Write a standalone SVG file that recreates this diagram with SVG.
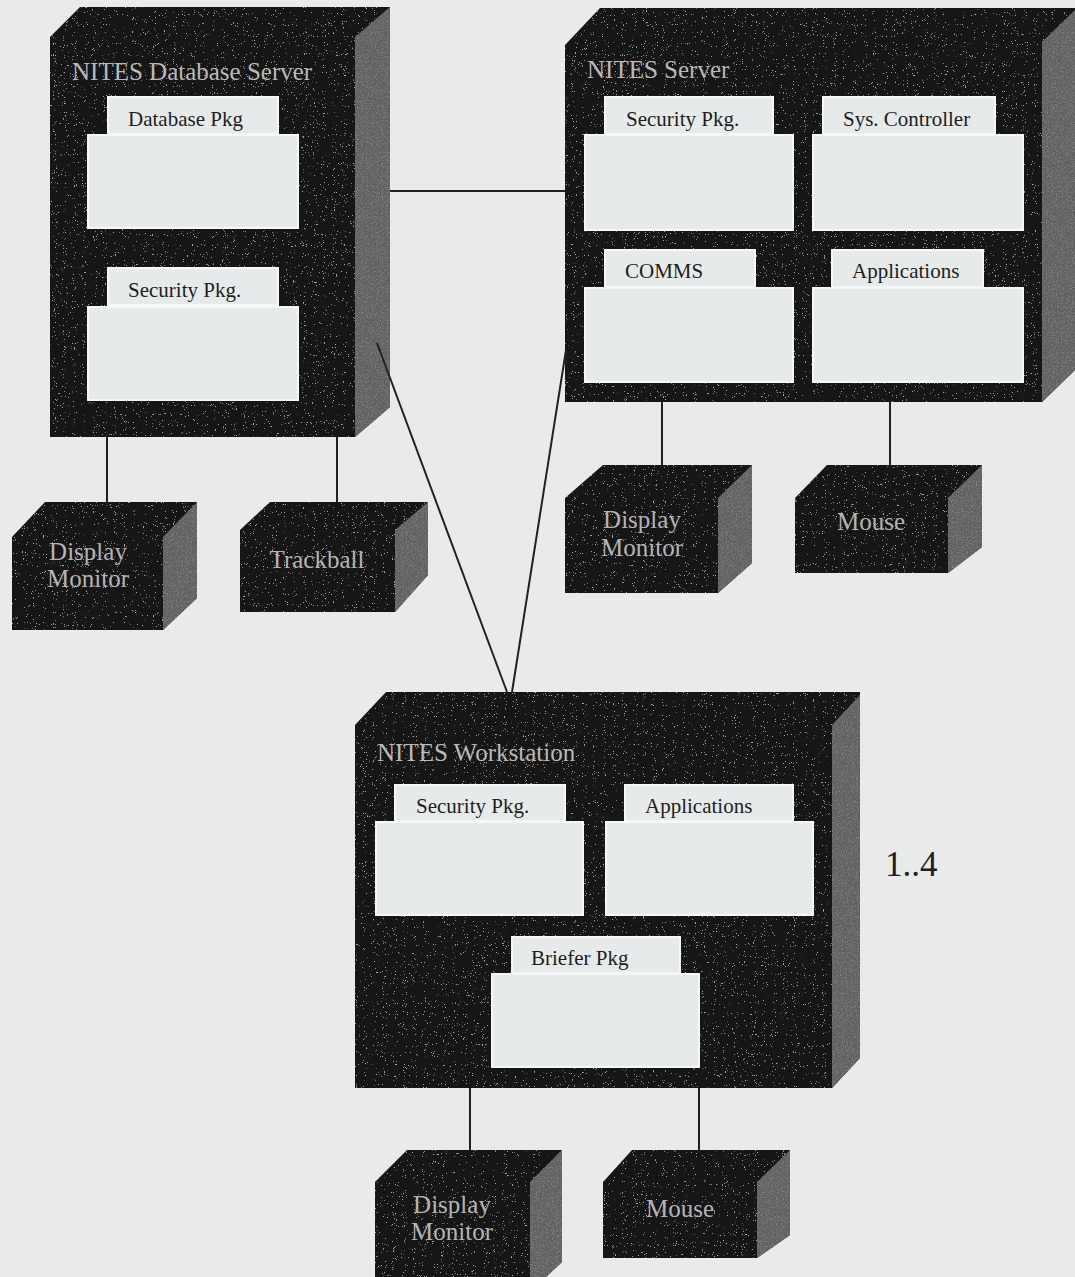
<svg xmlns="http://www.w3.org/2000/svg" width="1075" height="1277" viewBox="0 0 1075 1277">
<defs>
<style>
.bg{fill:#e8ebea}
.body{fill:#161616;filter:url(#speckFront)}
.side{fill:#626262;filter:url(#speckSide)}
.pkg{fill:#e7eaea;stroke:#f6f7f7;stroke-width:2}
.ttl{font-family:"Liberation Serif","Times New Roman",serif;font-size:25px;fill:#b9b9b9}
.dev{font-family:"Liberation Serif","Times New Roman",serif;font-size:25px;fill:#b4b4b4;text-anchor:middle}
.lbl{font-family:"Liberation Serif","Times New Roman",serif;font-size:21px;fill:#1e1e1e}
.mult{font-family:"Liberation Serif","Times New Roman",serif;font-size:35px;fill:#1e1e1e}
.conn line{stroke:#222;stroke-width:2}
</style>
<filter id="speckFront" x="0" y="0" width="100%" height="100%">
<feTurbulence type="fractalNoise" baseFrequency="0.9" numOctaves="2" seed="4" result="n"/>
<feColorMatrix in="n" type="matrix" values="0 0 0 0 0.4  0 0 0 0 0.4  0 0 0 0 0.4  16 0 0 0 -11.2" result="s"/>
<feComposite in="s" in2="SourceGraphic" operator="in" result="s2"/>
<feMerge><feMergeNode in="SourceGraphic"/><feMergeNode in="s2"/></feMerge>
</filter>
<filter id="speckSide" x="0" y="0" width="100%" height="100%">
<feTurbulence type="fractalNoise" baseFrequency="0.8" numOctaves="2" seed="9" result="n"/>
<feColorMatrix in="n" type="matrix" values="0 0 0 0 0.22  0 0 0 0 0.22  0 0 0 0 0.22  5 0 0 0 -2.6" result="s"/>
<feComposite in="s" in2="SourceGraphic" operator="in" result="s2"/>
<feMerge><feMergeNode in="SourceGraphic"/><feMergeNode in="s2"/></feMerge>
</filter>
</defs>
<rect class="bg" x="0" y="0" width="1075" height="1277"/>

<g id="db-server">
<polygon class="body" points="50,37 80,7 390,7 390,407 355,437 50,437"/>
<polygon class="side" points="355,37 390,7 390,407 355,437"/>
<text class="ttl" x="72" y="80">NITES Database Server</text>
<rect class="pkg" x="108" y="97" width="170" height="37"/>
<rect class="pkg" x="88" y="135" width="210" height="93"/>
<text class="lbl" x="128" y="126">Database Pkg</text>
<rect class="pkg" x="108" y="268" width="170" height="37"/>
<rect class="pkg" x="88" y="307" width="210" height="93"/>
<text class="lbl" x="128" y="297">Security Pkg.</text>
</g>

<g id="nites-server">
<polygon class="body" points="565,45 600,8 1075,8 1075,370 1042,402 565,402"/>
<polygon class="side" points="1042,42 1075,10 1075,370 1042,402"/>
<text class="ttl" x="587" y="78">NITES Server</text>
<rect class="pkg" x="605" y="97" width="168" height="37"/>
<rect class="pkg" x="585" y="135" width="208" height="95"/>
<text class="lbl" x="626" y="126">Security Pkg.</text>
<rect class="pkg" x="823" y="97" width="172" height="37"/>
<rect class="pkg" x="813" y="135" width="210" height="95"/>
<text class="lbl" x="843" y="126">Sys. Controller</text>
<rect class="pkg" x="605" y="250" width="150" height="37"/>
<rect class="pkg" x="585" y="288" width="208" height="94"/>
<text class="lbl" x="625" y="278">COMMS</text>
<rect class="pkg" x="832" y="250" width="151" height="37"/>
<rect class="pkg" x="813" y="288" width="210" height="94"/>
<text class="lbl" x="852" y="278">Applications</text>
</g>

<g id="workstation">
<polygon class="body" points="355,725 386,692 860,692 860,1058 832,1088 355,1088"/>
<polygon class="side" points="832,725 860,695 860,1058 832,1088"/>
<text class="ttl" x="377" y="761">NITES Workstation</text>
<rect class="pkg" x="395" y="785" width="170" height="36"/>
<rect class="pkg" x="376" y="822" width="207" height="93"/>
<text class="lbl" x="416" y="813">Security Pkg.</text>
<rect class="pkg" x="625" y="785" width="168" height="36"/>
<rect class="pkg" x="606" y="822" width="207" height="93"/>
<text class="lbl" x="645" y="813">Applications</text>
<rect class="pkg" x="512" y="937" width="168" height="36"/>
<rect class="pkg" x="492" y="974" width="207" height="93"/>
<text class="lbl" x="531" y="965">Briefer Pkg</text>
</g>

<g id="db-display-monitor">
<polygon class="body" points="12,537 45,502 197,502 197,598 163,630 12,630"/>
<polygon class="side" points="163,537 197,502 197,598 163,630"/>
<text class="dev" x="88" y="560">Display</text>
<text class="dev" x="88" y="587">Monitor</text>
</g>

<g id="db-trackball">
<polygon class="body" points="240,530 270,502 428,502 428,575 395,612 240,612"/>
<polygon class="side" points="395,530 428,502 428,575 395,612"/>
<text class="dev" x="317" y="568">Trackball</text>
</g>

<g id="server-display-monitor">
<polygon class="body" points="565,498 603,465 752,465 752,563 718,593 565,593"/>
<polygon class="side" points="718,498 752,465 752,563 718,593"/>
<text class="dev" x="642" y="528">Display</text>
<text class="dev" x="642" y="556">Monitor</text>
</g>

<g id="server-mouse">
<polygon class="body" points="795,498 827,465 982,465 982,547 948,573 795,573"/>
<polygon class="side" points="948,498 982,465 982,547 948,573"/>
<text class="dev" x="871" y="530">Mouse</text>
</g>

<g id="ws-display-monitor">
<polygon class="body" points="375,1182 407,1150 562,1150 562,1262 530,1292 375,1292"/>
<polygon class="side" points="530,1182 562,1150 562,1262 530,1292"/>
<text class="dev" x="452" y="1213">Display</text>
<text class="dev" x="452" y="1240">Monitor</text>
</g>

<g id="ws-mouse">
<polygon class="body" points="603,1182 632,1150 790,1150 790,1235 757,1258 603,1258"/>
<polygon class="side" points="757,1182 790,1150 790,1235 757,1258"/>
<text class="dev" x="680" y="1217">Mouse</text>
</g>

<g id="multiplicity">
<text class="mult" x="885" y="876">1..4</text>
</g>

<g id="connectors" class="conn">
<line x1="390" y1="191" x2="565" y2="191"/>
<line x1="377" y1="343" x2="507" y2="692"/>
<line x1="566" y1="350" x2="512" y2="692"/>
<line x1="107" y1="437" x2="107" y2="502"/>
<line x1="337" y1="437" x2="337" y2="502"/>
<line x1="662" y1="402" x2="662" y2="465"/>
<line x1="890" y1="402" x2="890" y2="465"/>
<line x1="470" y1="1088" x2="470" y2="1150"/>
<line x1="699" y1="1088" x2="699" y2="1150"/>
</g>
</svg>
